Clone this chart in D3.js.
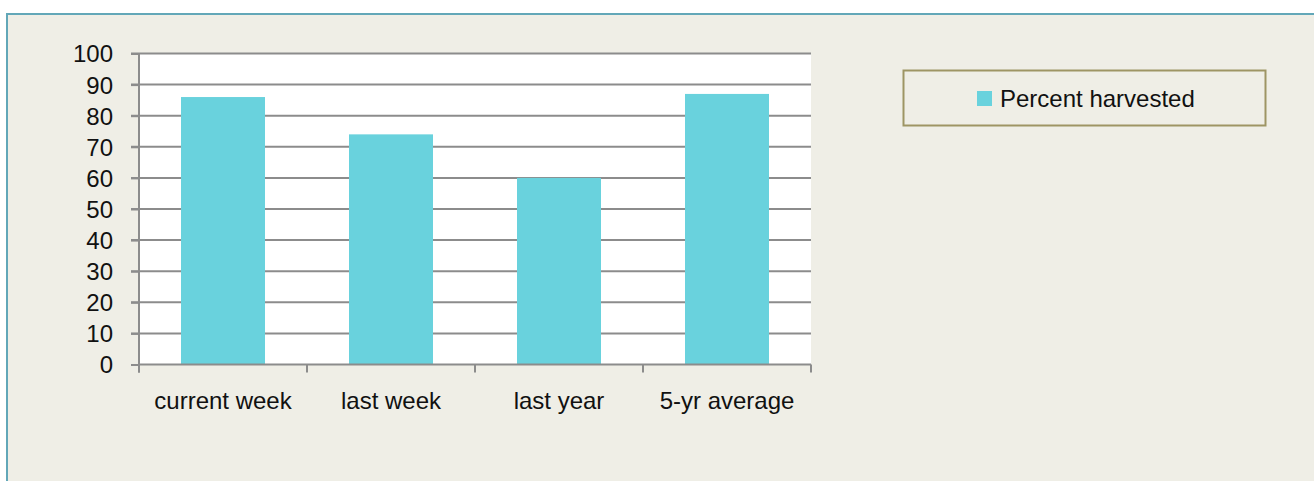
<!DOCTYPE html>
<html>
<head>
<meta charset="utf-8">
<script src="https://cdn.jsdelivr.net/npm/d3@7"></script>
<style>
  html, body { margin: 0; padding: 0; background: #ffffff; }
  svg { display: block; }
  text { font-family: "Liberation Sans", Arial, sans-serif; fill: #111; }
</style>
</head>
<body>
<script>
const categories = ["current week", "last week", "last year", "5-yr average"];
const percentHarvested = [86, 74, 60, 87];
const seriesName = "Percent harvested";
const yTicks = [0, 10, 20, 30, 40, 50, 60, 70, 80, 90, 100];

const W = 1314, H = 481;
const svg = d3.select("body").append("svg").attr("width", W).attr("height", H);

// chart frame
svg.append("rect").attr("x", 7).attr("y", 14).attr("width", W).attr("height", H)
  .attr("fill", "#EFEEE6").attr("stroke", "#62A7B8").attr("stroke-width", 2);

const plot = { left: 139, right: 811, top: 53.5, bottom: 364.5 };

const x = d3.scaleBand().domain(categories).range([plot.left, plot.right]).paddingInner(0.5).paddingOuter(0.25);
const xOuter = d3.scaleBand().domain(categories).range([plot.left, plot.right]);
const y = d3.scaleLinear().domain([0, 100]).range([plot.bottom, plot.top]);

// plot background
svg.append("rect").attr("x", plot.left).attr("y", plot.top)
  .attr("width", plot.right - plot.left).attr("height", plot.bottom - plot.top).attr("fill", "#ffffff");

// gridlines
svg.append("g").selectAll("line").data(yTicks.filter(d => d > 0)).join("line")
  .attr("x1", plot.left - 8).attr("x2", plot.right)
  .attr("y1", d => y(d)).attr("y2", d => y(d))
  .attr("stroke", "#8C8C8C").attr("stroke-width", 2);

// bars
svg.append("g").selectAll("rect").data(percentHarvested).join("rect")
  .attr("x", (d, i) => x(categories[i]))
  .attr("width", x.bandwidth())
  .attr("y", d => y(d))
  .attr("height", d => y(0) - y(d))
  .attr("fill", "#69D2DD");

// y axis
const yAxis = d3.axisLeft(y).tickValues(yTicks).tickSize(8).tickPadding(18).tickFormat(d3.format("d"));
const gy = svg.append("g").attr("transform", `translate(${plot.left},0)`).call(yAxis);
gy.select(".domain").attr("stroke", "#8C8C8C").attr("stroke-width", 2).attr("d", `M0,${plot.top}V${plot.bottom + 8}`);
gy.selectAll(".tick line").attr("stroke", "#8C8C8C").attr("stroke-width", 2);
gy.selectAll(".tick text").attr("font-size", 24).attr("font-family", "Liberation Sans, Arial, sans-serif").attr("fill", "#111").attr("dy", "0.35em");

// x axis
const boundaries = categories.map(c => xOuter(c)).concat([plot.right]);
const gx = svg.append("g");
gx.append("line").attr("x1", plot.left).attr("x2", plot.right).attr("y1", y(0)).attr("y2", y(0))
  .attr("stroke", "#8C8C8C").attr("stroke-width", 2);
gx.selectAll("line.tk").data(boundaries).join("line").attr("class", "tk")
  .attr("x1", d => d).attr("x2", d => d).attr("y1", y(0)).attr("y2", y(0) + 8)
  .attr("stroke", "#8C8C8C").attr("stroke-width", 2);
gx.selectAll("text").data(categories).join("text")
  .attr("x", d => x(d) + x.bandwidth() / 2).attr("y", 409)
  .attr("text-anchor", "middle").attr("font-size", 24).text(d => d);

// legend
const lg = svg.append("g");
lg.append("rect").attr("x", 903.5).attr("y", 70.5).attr("width", 362).attr("height", 55)
  .attr("fill", "none").attr("stroke", "#9E9564").attr("stroke-width", 2);
lg.append("rect").attr("x", 977).attr("y", 91).attr("width", 15).attr("height", 15).attr("fill", "#69D2DD");
lg.append("text").attr("x", 1000).attr("y", 107).attr("font-size", 24).text(seriesName);
</script>
</body>
</html>
